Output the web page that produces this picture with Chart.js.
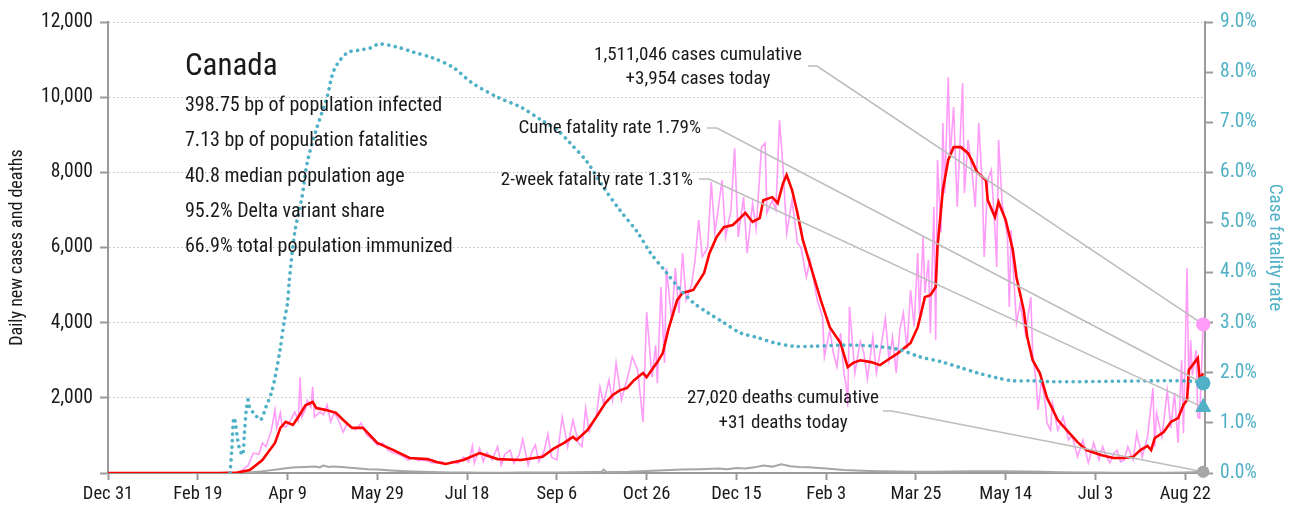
<!DOCTYPE html>
<html>
<head>
<meta charset="utf-8">
<title>Canada: daily new cases and deaths</title>
<script src="https://cdn.jsdelivr.net/npm/chart.js"></script>
<style>
  html, body { margin: 0; padding: 0; background: #fff; }
  #wrap { width: 1293px; height: 514px; }
</style>
</head>
<body>
<div id="wrap"><canvas id="chart" width="1293" height="514"></canvas></div>
<script>
// day 0 = Dec 31, 2019
const START = new Date(2019, 11, 31);
const LAST_DAY = 610;
const MONTHS = ["Jan", "Feb", "Mar", "Apr", "May", "Jun", "Jul", "Aug", "Sep", "Oct", "Nov", "Dec"];
const xTickDays = [0, 50, 100, 150, 200, 250, 300, 350, 400, 450, 500, 550, 600];

// [day, new cases] as reported each day
const dailyCases = [
  [0,0],[72,0],[74,50],[78,200],[81,530],[84,500],[86,800],[88,700],[91,1140],[93,1680],[94,1200],[96,1600],
  [97,1250],[99,1220],[101,1350],[104,1620],[106,1400],[107,2550],[108,1490],[110,1700],[111,1940],[113,1750],
  [114,2290],[115,1490],[118,1620],[120,1550],[122,1810],[124,1360],[126,1600],[128,1450],[131,1090],[133,1300],
  [135,1220],[138,1150],[141,1330],[144,1010],[147,900],[150,745],[153,800],[156,600],[159,530],[162,500],
  [165,420],[167,345],[170,400],[173,330],[175,345],[178,320],[180,280],[183,270],[186,300],[188,240],[192,290],
  [195,250],[198,420],[201,300],[203,720],[204,260],[207,660],[209,300],[211,550],[214,350],[217,700],[219,210],
  [221,500],[224,610],[226,260],[229,480],[231,900],[234,210],[236,550],[238,745],[240,300],[243,600],[245,1040],
  [247,420],[250,350],[253,1490],[256,700],[259,1410],[262,800],[264,700],[266,1730],[268,1100],[270,1330],
  [272,1500],[274,2290],[276,1860],[279,2470],[281,1940],[283,2930],[286,1940],[288,2300],[290,2660],[292,3090],
  [295,2740],[298,1360],[300,4280],[303,2550],[305,3400],[306,2390],[308,4950],[310,2930],[311,5450],[314,4070],
  [316,5450],[318,4260],[320,5850],[322,4600],[325,5000],[327,5670],[329,6730],[331,5750],[334,6000],[336,7740],
  [338,6380],[340,7080],[342,7790],[344,6280],[347,7000],[349,8640],[351,6280],[354,7340],[356,5850],[359,7180],
  [361,6500],[364,8670],[366,8780],[367,6920],[370,7260],[372,7000],[374,9390],[376,8140],[378,6380],[381,7260],
  [384,6120],[386,6000],[389,5210],[391,5670],[395,4600],[398,4150],[399,3090],[402,3800],[404,3200],[406,2820],
  [408,3720],[410,2600],[411,2390],[412,1760],[413,4420],[416,2660],[419,3500],[421,3190],[423,2500],[426,3620],
  [428,2660],[430,3200],[433,4120],[435,3000],[437,3620],[439,2660],[441,3800],[443,4260],[445,3300],[447,4870],
  [449,3900],[451,5850],[452,4200],[454,6280],[455,4790],[457,5670],[458,3720],[460,7080],[461,3540],[462,8330],
  [464,6400],[465,9310],[466,7450],[468,10530],[469,8400],[471,9740],[473,7080],[476,10370],[477,7450],[479,8860],
  [481,8140],[483,7080],[485,9310],[487,7610],[488,5750],[490,7790],[492,8060],[494,6500],[495,5480],[496,8860],
  [498,7180],[501,6280],[502,4420],[503,6460],[505,4800],[506,3990],[508,4500],[511,3700],[514,4680],[515,3190],
  [517,2400],[518,1680],[520,2500],[522,1860],[523,1330],[525,1140],[526,1860],[529,1140],[532,1490],[535,880],
  [537,1000],[540,430],[543,880],[546,270],[549,800],[552,350],[554,700],[556,450],[558,270],[560,500],[562,610],
  [564,300],[566,350],[568,700],[571,350],[573,1060],[576,430],[579,960],[582,2260],[583,700],[584,1600],[587,960],
  [590,2200],[592,1200],[594,2130],[596,800],[598,3000],[599,1060],[601,5450],[602,2200],[603,3540],[604,2600],
  [606,3270],[607,1490],[608,1460],[610,3954]
];

// [day, 7-day average of new cases]
const avgCases = [
  [0,0],[62,0],[72,10],[79,80],[86,345],[93,800],[96,1200],[99,1360],[103,1280],[106,1490],[110,1800],[114,1890],
  [116,1730],[121,1680],[127,1600],[131,1410],[136,1200],[142,1200],[150,800],[159,610],[168,400],[178,370],
  [183,290],[188,240],[198,345],[207,530],[217,370],[230,345],[242,430],[248,640],[254,800],[259,960],[261,880],
  [267,1140],[272,1490],[277,1860],[281,2070],[285,2200],[289,2260],[293,2470],[298,2660],[300,2550],[304,2820],
  [306,2950],[309,3190],[312,3800],[317,4600],[320,4790],[326,4870],[332,5320],[335,5850],[339,6280],[343,6540],
  [348,6600],[352,6780],[355,6920],[359,6680],[363,6780],[365,7260],[370,7340],[373,7180],[376,7710],[378,7930],
  [381,7530],[384,6920],[387,6200],[392,5400],[397,4600],[402,3880],[408,3460],[412,2820],[415,2930],[419,3000],
  [425,2950],[430,2870],[434,3000],[440,3190],[447,3460],[451,3880],[455,4680],[458,4730],[461,4950],[462,6010],
  [465,7530],[468,8330],[471,8670],[475,8670],[479,8510],[481,8330],[484,8010],[489,7790],[490,7260],[494,6810],
  [496,7210],[500,6730],[504,5930],[506,5210],[510,4340],[512,3620],[515,3000],[519,2660],[523,2000],[529,1410],
  [534,1140],[540,820],[545,610],[553,480],[560,400],[566,400],[571,430],[575,610],[579,720],[581,610],[583,930],
  [588,1090],[592,1360],[596,1460],[599,1810],[601,1940],[602,2740],[605,2930],[607,3060],[608,2500],[610,2650]
];

// [day, new deaths]
const dailyDeaths = [
  [0,0],[72,0],[75,5],[80,20],[85,40],[90,70],[95,100],[100,130],[105,150],[110,160],[115,170],[118,150],
  [120,200],[123,160],[125,175],[130,160],[135,140],[140,120],[145,100],[150,90],[160,60],[170,40],[180,25],
  [190,15],[200,10],[210,8],[220,8],[230,10],[240,10],[250,15],[260,20],[270,25],[275,30],[276,90],[278,20],
  [280,25],[290,30],[300,50],[310,70],[320,90],[330,100],[340,120],[345,100],[350,130],[355,120],[360,150],
  [365,200],[370,170],[375,230],[380,180],[385,160],[390,150],[400,120],[410,80],[420,60],[430,45],[440,40],
  [450,35],[460,30],[470,40],[480,45],[490,45],[500,45],[510,40],[520,30],[530,20],[540,15],[550,10],[560,8],
  [570,6],[580,5],[590,8],[600,15],[610,31]
];

// [day, cumulative case fatality rate, %]
const fatalityRate = [
  [68,0],[69,0.5],[70,1.1],[71,1.0],[72,0.72],[73,0.52],[75,0.36],[76,0.8],[77,1.26],[78,1.46],[79,1.3],
  [82,1.16],[85,1.06],[88,1.32],[91,1.6],[93,1.9],[96,2.5],[98,3.0],[100,3.4],[101,3.85],[104,4.8],[108,5.5],
  [111,6.2],[116,6.85],[122,7.5],[126,8.05],[133,8.38],[140,8.44],[146,8.48],[151,8.56],[161,8.5],[170,8.4],
  [181,8.28],[192,8.1],[203,7.78],[217,7.5],[230,7.3],[241,7.05],[250,6.85],[257,6.6],[267,6.2],[276,5.7],
  [285,5.25],[295,4.8],[302,4.4],[311,4.0],[319,3.65],[326,3.4],[334,3.2],[343,3.0],[352,2.8],[362,2.7],
  [371,2.6],[382,2.53],[393,2.53],[408,2.55],[417,2.55],[430,2.52],[441,2.46],[452,2.32],[464,2.22],[475,2.1],
  [484,2.0],[495,1.9],[504,1.84],[515,1.84],[527,1.82],[560,1.83],[590,1.84],[605,1.83],[610,1.79]
];

const casesToday = 3954;
const deathsToday = 31;
const cumeRate = 1.79;
const twoWeekRate = 1.31;

const infoTitle = "Canada";
const infoLines = [
  "398.75 bp of population infected",
  "7.13 bp of population fatalities",
  "40.8 median population age",
  "95.2% Delta variant share",
  "66.9% total population immunized"
];
const casesNote = ["1,511,046 cases cumulative", "+3,954 cases today"];
const deathsNote = ["27,020 deaths cumulative", "+31 deaths today"];
const cumeNote = "Cume fatality rate 1.79%";
const twoWeekNote = "2-week fatality rate 1.31%";

const FONT = '"Roboto Condensed", "Liberation Sans Narrow", sans-serif';
const TEAL = "#4fb0c6";
const PINK = "#ff9cf7";
const GREY = "#a6a6a6";
const INK = "#1a1a1a";

const pts = arr => arr.map(([x, y]) => ({ x, y }));

function dayLabel(v) {
  const d = new Date(START.getFullYear(), START.getMonth(), START.getDate() + v);
  return MONTHS[d.getMonth()] + " " + d.getDate();
}

// text block, leader lines from the notes to the end markers
const notes = {
  id: "notes",
  afterDatasetsDraw(chart) {
    const { ctx, scales: { x, y, y1 } } = chart;
    const xe = x.getPixelForValue(LAST_DAY);

    ctx.save();
    ctx.fillStyle = INK;
    ctx.textBaseline = "middle";
    ctx.textAlign = "left";
    ctx.font = "31px " + FONT;
    ctx.fillText(infoTitle, 185, 67);
    ctx.font = "20px " + FONT;
    infoLines.forEach((t, i) => ctx.fillText(t, 185, 106 + i * 35.3));

    ctx.font = "19px " + FONT;
    ctx.textAlign = "center";
    ctx.fillText(casesNote[0], 698, 55);
    ctx.fillText(casesNote[1], 698, 79);
    ctx.fillText(deathsNote[0], 783, 398);
    ctx.fillText(deathsNote[1], 783, 423);
    ctx.textAlign = "right";
    ctx.fillText(cumeNote, 701, 128);
    ctx.fillText(twoWeekNote, 693, 180);

    const leaders = [
      [808, 66, 817, y.getPixelForValue(casesToday)],
      [707, 128, 717, y1.getPixelForValue(cumeRate)],
      [699, 179, 709, y1.getPixelForValue(twoWeekRate)],
      [883, 411, 892, y.getPixelForValue(deathsToday)]
    ];
    ctx.strokeStyle = "#bdbdbd";
    ctx.lineWidth = 1.6;
    leaders.forEach(([x0, y0, x1, yEnd]) => {
      ctx.beginPath();
      ctx.moveTo(x0, y0);
      ctx.lineTo(x1, y0);
      ctx.lineTo(xe, yEnd);
      ctx.stroke();
    });
    ctx.restore();

    // end markers go over the leader lines
    chart.data.datasets.forEach((ds, i) => {
      if (ds.isMarker) chart.getDatasetMeta(i).data.forEach(el => el.draw(ctx));
    });
  }
};

Chart.defaults.font.family = FONT;
Chart.defaults.color = INK;

const marker = (label, value, axis, color, style, r) => ({
  label, isMarker: true, data: [{ x: LAST_DAY, y: value }], yAxisID: axis,
  showLine: false, pointStyle: style, pointRadius: r, pointBackgroundColor: color,
  pointBorderColor: color, pointBorderWidth: 0, clip: false, order: 0
});

new Chart(document.getElementById("chart"), {
  type: "line",
  data: {
    datasets: [
      marker("cases today", casesToday, "y", PINK, "circle", 7),
      marker("cume rate", cumeRate, "y1", TEAL, "circle", 7),
      marker("2-week rate", twoWeekRate, "y1", TEAL, "triangle", 9),
      marker("deaths today", deathsToday, "y", GREY, "circle", 6),
      {
        label: "Case fatality rate", data: pts(fatalityRate), yAxisID: "y1",
        borderColor: TEAL, borderWidth: 3.6, borderDash: [0.1, 6.4], borderCapStyle: "round",
        pointRadius: 0, tension: 0.3, order: 1
      },
      {
        label: "7-day average", data: pts(avgCases), yAxisID: "y",
        borderColor: "#ff0000", borderWidth: 2.6, pointRadius: 0, tension: 0, order: 2
      },
      {
        label: "Daily new cases", data: pts(dailyCases), yAxisID: "y",
        borderColor: PINK, borderWidth: 1.6, pointRadius: 0, tension: 0, order: 3
      },
      {
        label: "Daily deaths", data: pts(dailyDeaths), yAxisID: "y",
        borderColor: GREY, borderWidth: 2, pointRadius: 0, tension: 0, order: 4
      }
    ]
  },
  options: {
    responsive: false,
    animation: false,
    events: [],
    layout: { padding: { top: 22, left: 0, right: 0, bottom: 0 } },
    plugins: { legend: { display: false }, tooltip: { enabled: false } },
    scales: {
      x: {
        type: "linear", min: 0, max: 611,
        afterBuildTicks: s => { s.ticks = xTickDays.map(value => ({ value })); },
        afterFit: s => { s.height = 41; },
        ticks: { callback: dayLabel, font: { size: 18.5 }, color: INK, padding: 3, maxRotation: 0, autoSkip: false },
        grid: { drawOnChartArea: false, tickLength: 7, tickWidth: 2, tickColor: "#9a9a9a" },
        border: { color: "#9a9a9a", width: 2 }
      },
      y: {
        position: "left", min: 0, max: 12000,
        afterFit: s => { s.width = 108; },
        ticks: {
          stepSize: 2000, font: { size: 19.5 }, color: INK, padding: 7,
          callback: v => (v === 0 ? "" : v.toLocaleString("en-US"))
        },
        grid: { color: "#bdbdbd", lineWidth: 1, tickLength: 8, tickWidth: 2, tickColor: "#9a9a9a" },
        border: { color: "#9a9a9a", width: 2, dash: [1.5, 2.5] },
        title: {
          display: true, text: "Daily new cases and deaths", font: { size: 18 }, color: INK,
          padding: { top: 7, bottom: 0 }
        }
      },
      y1: {
        position: "right", min: 0, max: 9,
        afterFit: s => { s.width = 88; },
        ticks: { stepSize: 1, font: { size: 19.5 }, color: TEAL, padding: 7, callback: v => v.toFixed(1) + "%" },
        grid: { drawOnChartArea: false, tickLength: 8, tickWidth: 2, tickColor: "#9a9a9a" },
        border: { color: "#9a9a9a", width: 2 },
        title: {
          display: true, text: "Case fatality rate", font: { size: 19 }, color: TEAL,
          padding: { top: 7, bottom: 0 }
        }
      }
    }
  },
  plugins: [notes]
});
</script>
</body>
</html>
